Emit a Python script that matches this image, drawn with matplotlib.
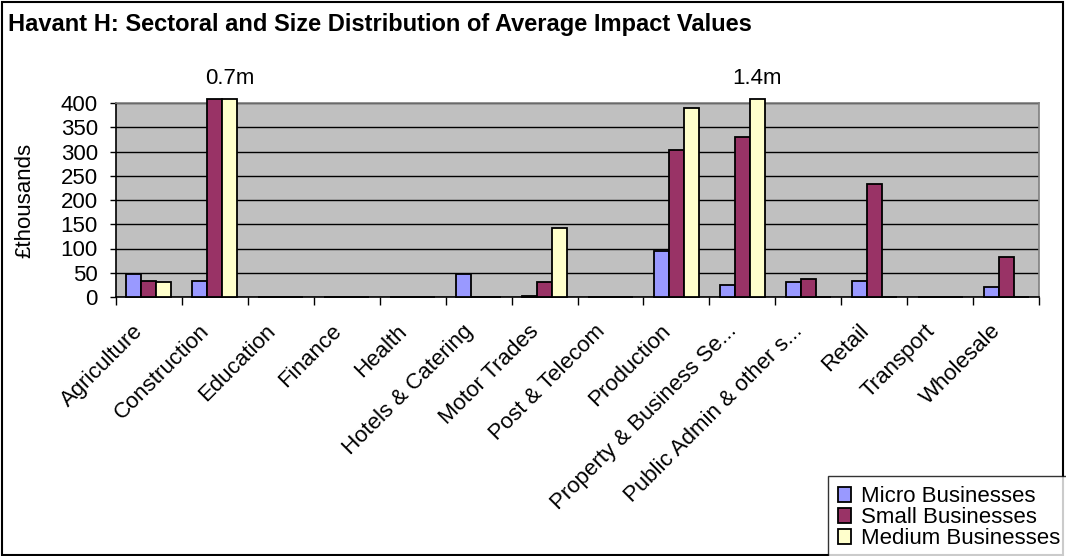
import numpy as np
import matplotlib
matplotlib.use("Agg")
import matplotlib.pyplot as plt
import matplotlib.transforms as mtransforms
from matplotlib.patches import Rectangle

categories = ["Agriculture", "Construction", "Education", "Finance", "Health",
              "Hotels & Catering", "Motor Trades", "Post & Telecom", "Production",
              "Property & Business Se...", "Public Admin & other s...", "Retail",
              "Transport", "Wholesale"]
micro = [47, 34, 0, 0, 0, 47, 3, 0, 95, 24, 30, 34, 0, 21]
small = [34, 700, 0, 0, 0, 0, 30, 0, 303, 329, 38, 234, 0, 82]
medium = [30, 700, 0, 0, 0, 0, 143, 0, 390, 1400, 0, 0, 0, 0]
series_names = ["Micro Businesses", "Small Businesses", "Medium Businesses"]
colors = ["#9999FF", "#993366", "#FFFFCC"]
yticks = [0, 50, 100, 150, 200, 250, 300, 350, 400]

plt.rcParams['font.family'] = ['Liberation Sans', 'DejaVu Sans']
FS = 16

fig = plt.figure(figsize=(10.66, 5.56), dpi=100)
ax = fig.add_axes([116/1066, 1-297/556, (1039-116)/1066, (297-103)/556])
ax.set_facecolor("#C0C0C0")

x = np.arange(len(categories))
w = 15/66
cap = 408
for i, (vals, c, name) in enumerate(zip([micro, small, medium], colors, series_names)):
    v = np.array(vals, dtype=float)
    ax.bar(x + (i-1)*w, np.minimum(v, cap), width=w, color=c, edgecolor="black",
           linewidth=1.3, label=name, clip_on=False, zorder=3)

# over-range labels
for xi, v in zip(x, medium):
    if v > 400:
        ax.text(xi + w*1.0, 428, f"{v/1000:.1f}m", ha="center", va="bottom",
                fontsize=FS, clip_on=False)

ax.set_xlim(-0.5, len(categories)-0.5)
ax.set_ylim(0, 400)
ax.set_yticks(yticks)
ax.set_yticklabels([str(t) for t in yticks], fontsize=FS)
ax.yaxis.grid(True, color="black", linewidth=1.0, zorder=0)
ax.set_axisbelow(True)

ax.set_xticks(np.arange(len(categories)+1) - 0.5)
ax.set_xticklabels([])
ax.set_xticks(x, minor=True)
ax.set_xticklabels(categories, minor=True, rotation=45, ha="right",
                   rotation_mode="anchor", fontsize=FS)
ax.tick_params(axis="x", which="minor", length=0, pad=17)
ax.tick_params(axis="x", which="major", length=6, width=1, direction="out")
ax.tick_params(axis="y", length=4, width=1, direction="out", pad=9)
shift = mtransforms.ScaledTranslation(-16/100, 0, fig.dpi_scale_trans)
for lab in ax.get_xticklabels(minor=True):
    lab.set_transform(lab.get_transform() + shift)

for s in ["top", "right"]:
    ax.spines[s].set_color("#808080")
    ax.spines[s].set_linewidth(1.2)
for s in ["left", "bottom"]:
    ax.spines[s].set_color("black")
    ax.spines[s].set_linewidth(1.2)

ax.set_ylabel("£thousands", fontsize=FS)
ax.yaxis.set_label_coords((35-116)/923, 0.5)

fig.text(8/1066, 1-25/556, "Havant H: Sectoral and Size Distribution of Average Impact Values",
         fontsize=17, fontweight="bold", ha="left", va="center")

leg = fig.legend(loc="lower right", bbox_to_anchor=(1.004, -0.006), fontsize=FS,
                 frameon=True, fancybox=False, edgecolor="black", handlelength=0.6,
                 handleheight=0.6, handletextpad=0.45, labelspacing=0.0,
                 borderpad=0.45, borderaxespad=0.0)
leg.get_frame().set_linewidth(1.0)

fig.patches.append(Rectangle((2/1066, 1/556), 1061/1066, 553/556, transform=fig.transFigure,
                             fill=False, edgecolor="black", linewidth=1.5))

fig.savefig("out.png", dpi=100)
